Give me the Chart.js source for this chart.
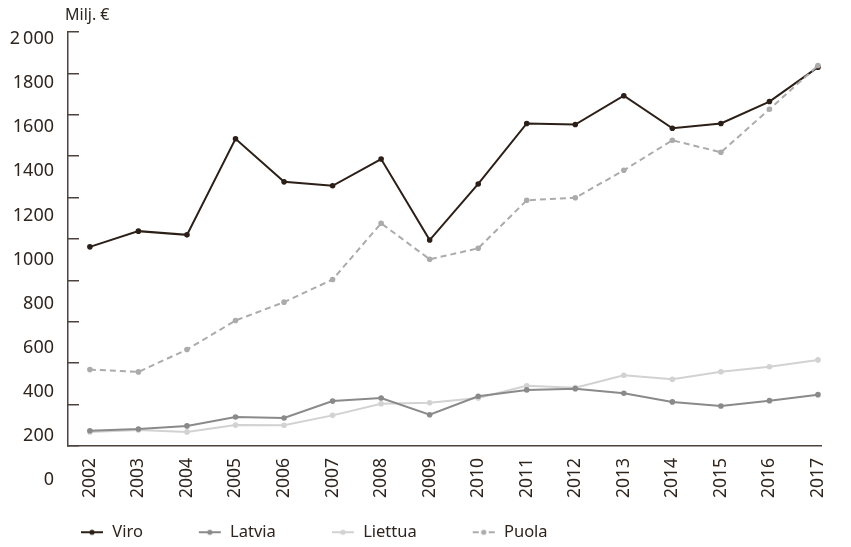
<!DOCTYPE html>
<html>
<head>
<meta charset="utf-8">
<script src="https://cdn.jsdelivr.net/npm/chart.js@4/dist/chart.umd.min.js"></script>
<style>
html,body{margin:0;padding:0;background:#fff;}
#wrap{width:851px;height:547px;position:relative;}
</style>
</head>
<body>
<div id="wrap"><canvas id="c"></canvas></div>
<script>
// ---- data ----
const years = [2002,2003,2004,2005,2006,2007,2008,2009,2010,2011,2012,2013,2014,2015,2016,2017];
const viro    = [962,1038,1020,1484,1276,1257,1386,995,1266,1558,1553,1692,1535,1558,1664,1830];
const latvia  = [74,82,97,140,135,217,232,151,240,271,277,255,213,193,219,248];
const liettua = [68,77,68,101,100,148,204,209,232,291,282,342,322,359,383,416];
const puola   = [369,358,466,606,695,804,1076,902,955,1187,1199,1332,1477,1419,1627,1838];
const seriesNames = ['Viro','Latvia','Liettua','Puola'];
const yTickValues = [0,200,400,600,800,1000,1200,1400,1600,1800,2000];
const yTickLabels = ['0','200','400','600','800','1000','1200','1400','1600','1800','2\u2009000'];
const unitLabel = 'Milj. €';

// ---- style ----
const TEXT = '#2f251f';
const AXIS = '#4d433c';
const FONT = '"Noto Sans", "DejaVu Sans", sans-serif';
const colors = ['#2b1f17','#8a8a8a','#d2d2d2','#ababab'];
const dashed = [false,false,false,true];
const ICON_LEAD = 35;   // blank lead-in before each legend icon (item spacing)
const ICON_W = 24;

function makeIcon(color, isDashed){
  const c = document.createElement('canvas');
  c.width = ICON_LEAD + ICON_W; c.height = 10;
  const g = c.getContext('2d');
  g.translate(ICON_LEAD, 0);
  g.strokeStyle = color; g.fillStyle = color; g.lineWidth = 2;
  g.beginPath();
  if (isDashed){
    g.moveTo(1,5); g.lineTo(7,5);
    g.moveTo(17,5); g.lineTo(23,5);
  } else {
    g.moveTo(1,5); g.lineTo(23,5);
  }
  g.stroke();
  g.beginPath(); g.arc(12,5,2.6,0,Math.PI*2); g.fill();
  return c;
}
const icons = colors.map((c,i)=>makeIcon(c,dashed[i]));

Chart.defaults.font.family = FONT;
Chart.defaults.color = TEXT;

const seriesData = [viro, latvia, liettua, puola];
const datasets = seriesData.map((vals,i)=>({
  label: seriesNames[i],
  data: years.map((y,k)=>({x:y, y:vals[k]})),
  borderColor: colors[i],
  backgroundColor: colors[i],
  pointBackgroundColor: colors[i],
  pointBorderColor: colors[i],
  borderWidth: 2,
  pointRadius: 2.8,
  pointBorderWidth: 0,
  borderDash: dashed[i] ? [6,4] : [],
  tension: 0,
  fill: false,
  clip: false,
  order: i === 3 ? -1 : 0
}));

const yLabelPlugin = {
  id: 'yLabels',
  afterDraw(chart){
    const s = chart.scales.y;
    const ctx = chart.ctx;
    const base = s.getPixelForValue(0);
    ctx.save();
    ctx.fillStyle = TEXT;
    ctx.font = '18px ' + FONT;
    ctx.textAlign = 'right';
    ctx.textBaseline = 'middle';
    yTickValues.forEach((v,i)=>{
      const y = base + 34 - (base - s.getPixelForValue(v)) * 1.0652;
      ctx.fillText(yTickLabels[i], s.right - 14, y);
    });
    ctx.font = '16px ' + FONT;
    ctx.textAlign = 'left';
    ctx.fillText(unitLabel, s.right - 3, 15);
    ctx.restore();
  }
};

new Chart(document.getElementById('c'), {
  type: 'line',
  data: { datasets },
  plugins: [yLabelPlugin],
  options: {
    responsive: true,
    maintainAspectRatio: false,
    animation: false,
    devicePixelRatio: 1,
    layout: { padding: { left: 25, right: 2, top: 32, bottom: 0 } },
    plugins: {
      tooltip: { enabled: false },
      title: { display: false },
      legend: {
        position: 'bottom',
        align: 'start',
        maxHeight: 43,
        labels: {
          usePointStyle: true,
          pointStyleWidth: ICON_LEAD + ICON_W,
          padding: 20,
          color: TEXT,
          font: { size: 16.5, family: FONT },
          generateLabels: () => seriesNames.map((n,i)=>({
            text: n, pointStyle: icons[i], datasetIndex: i, hidden: false,
            lineWidth: 0, fontColor: TEXT, strokeStyle: 'transparent', fillStyle: colors[i]
          }))
        }
      }
    },
    scales: {
      x: {
        type: 'linear',
        min: 2001.549,
        max: 2017.066,
        afterFit(scale){ scale.height = 58; },
        grid: { display: false, drawTicks: false },
        border: { display: true, color: AXIS, width: 1.5 },
        ticks: {
          stepSize: 1,
          includeBounds: false,
          autoSkip: false,
          minRotation: 90,
          maxRotation: 90,
          padding: 12,
          color: TEXT,
          font: { size: 17.5, family: FONT },
          callback: (v) => Number.isInteger(v) ? String(v) : ''
        }
      },
      y: {
        type: 'linear',
        min: 0,
        max: 2000,
        afterFit(scale){ scale.width = 43; },
        grid: { display: true, drawOnChartArea: false, drawTicks: true, tickLength: -11, color: AXIS, tickColor: AXIS, lineWidth: 1.5, tickWidth: 1.5 },
        border: { display: true, color: AXIS, width: 1.5 },
        ticks: { display: false, stepSize: 200 }
      }
    }
  }
});
</script>
</body>
</html>
